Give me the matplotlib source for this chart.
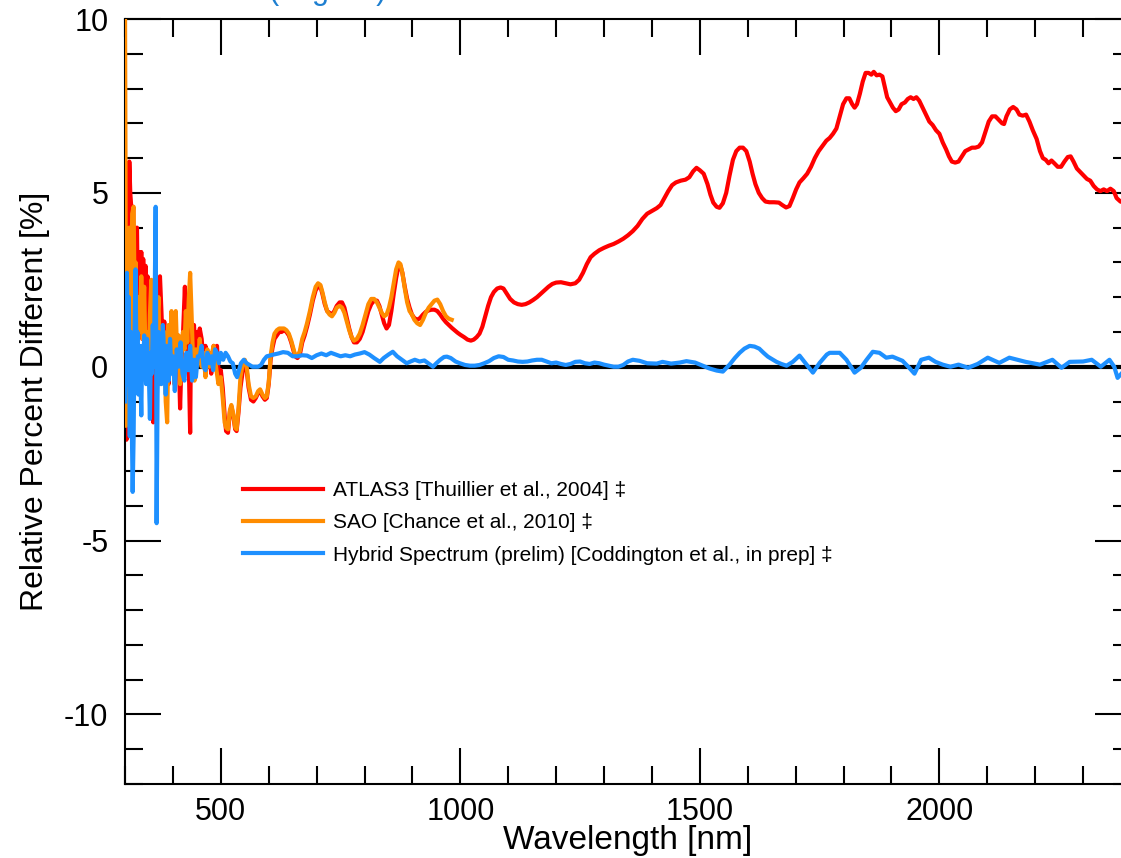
import matplotlib
matplotlib.use("Agg")
import matplotlib.pyplot as plt
from matplotlib.ticker import MultipleLocator

# ---- data: relative percent difference vs wavelength -----------------
atlas3_nm = [301, 303, 306, 309, 311, 313, 315, 317, 319, 321, 323, 325, 327, 330, 332, 334,
             336, 338, 340, 343, 345, 347, 349, 352, 355, 357, 359, 361, 364, 367, 370, 373,
             376, 379, 382, 385, 388, 391, 394, 397, 400, 403, 406, 409, 412, 415, 418, 421,
             425, 428, 431, 434, 436, 438, 441, 444, 447, 450, 453, 456, 460, 464, 468, 472,
             476, 480, 485, 489, 492, 496, 500, 504, 508, 511, 515, 519, 522, 526, 530, 533,
             537, 541, 546, 550, 554, 558, 563, 568, 573, 578, 582, 587, 592, 596, 600, 604,
             608, 612, 617, 622, 627, 632, 637, 642, 647, 651, 655, 660, 665, 670, 675, 680,
             686, 692, 698, 703, 708, 712, 717, 722, 727, 732, 737, 742, 748, 753, 758, 763,
             768, 773, 778, 784, 790, 796, 802, 808, 814, 820, 826, 831, 836, 841, 846, 851,
             856, 861, 866, 871, 875, 879, 884, 889, 894, 899, 904, 910, 916, 922, 928, 934,
             940, 946, 952, 958, 964, 970, 976, 982, 988, 994, 1000, 1008, 1015, 1022, 1028,
             1034, 1040, 1046, 1052, 1058, 1064, 1070, 1077, 1084, 1090, 1097, 1104, 1112,
             1120, 1128, 1136, 1144, 1152, 1160, 1168, 1176, 1184, 1192, 1200, 1210, 1220,
             1230, 1240, 1248, 1256, 1264, 1272, 1280, 1290, 1300, 1310, 1320, 1330, 1340,
             1350, 1360, 1370, 1380, 1390, 1400, 1410, 1418, 1426, 1434, 1442, 1450, 1460,
             1470, 1478, 1486, 1493, 1500, 1508, 1516, 1522, 1528, 1535, 1541, 1548, 1555,
             1562, 1569, 1576, 1583, 1590, 1597, 1604, 1610, 1616, 1623, 1630, 1637, 1645,
             1655, 1665, 1672, 1680, 1687, 1694, 1701, 1708, 1716, 1724, 1732, 1740, 1748,
             1756, 1764, 1771, 1778, 1785, 1792, 1799, 1806, 1812, 1818, 1823, 1828, 1834,
             1840, 1846, 1852, 1858, 1863, 1869, 1875, 1881, 1886, 1891, 1897, 1903, 1909,
             1915, 1921, 1928, 1934, 1940, 1946, 1952, 1958, 1965, 1972, 1979, 1986, 1993,
             2000, 2007, 2014, 2020, 2026, 2033, 2040, 2047, 2054, 2061, 2068, 2075, 2082,
             2089, 2096, 2103, 2110, 2117, 2124, 2131, 2135, 2140, 2147, 2154, 2161, 2167,
             2174, 2181, 2188, 2195, 2203, 2210, 2216, 2222, 2228, 2234, 2240, 2247, 2254,
             2261, 2268, 2274, 2280, 2287, 2294, 2301, 2308, 2315, 2322, 2329, 2336, 2343,
             2350, 2357, 2364, 2370, 2378, 2390]
atlas3_pct = [-1.2, -2.1, 1.0, 5.9, 5.0, 4.6, 2.0, 4.6, 1.0, 3.9, 3.2, 4.0, 1.5, 3.3, 2.2, 3.3,
              0.8, 3.1, 2.0, 2.9, 1.9, 2.6, 0.5, 2.2, 1.0, 1.8, -1.6, 0.8, 1.9, 0.6, 2.0, 2.6,
              1.6, 0.5, 1.3, 0.2, 0.6, -0.5, 0.4, 0.1, 0.6, -0.4, 0.5, 0.1, 0.4, -1.2, 0.2, 0.9,
              2.3, 0.5, 1.1, -0.5, -1.9, 1.3, 0.6, 1.2, 0.4, 1.0, 0.5, 1.1, 0.8, 0.2, 0.6, 0.1,
              0.4, -0.2, 0.6, 0.1, 0.6, -0.3, -0.1, -0.6, -1.4, -1.85, -1.9, -1.3, -1.15, -1.4, -1.8, -1.85,
              -1.3, -0.6, -0.1, 0.1, -0.1, -0.6, -0.95, -1.0, -0.9, -0.75, -0.7, -0.85, -0.95, -0.9, -0.5, 0.2,
              0.55, 0.8, 0.9, 1.0, 1.0, 1.05, 1.0, 0.9, 0.7, 0.5, 0.3, 0.25, 0.35, 0.7, 0.9, 1.15,
              1.5, 1.9, 2.2, 2.3, 2.3, 2.1, 1.8, 1.6, 1.55, 1.5, 1.6, 1.75, 1.85, 1.85, 1.7, 1.4,
              1.1, 0.85, 0.7, 0.7, 0.8, 1.0, 1.3, 1.6, 1.8, 1.9, 1.9, 1.75, 1.5, 1.25, 1.1, 1.2,
              1.6, 2.1, 2.55, 2.9, 2.9, 2.7, 2.3, 1.95, 1.7, 1.5, 1.4, 1.35, 1.4, 1.5, 1.58, 1.62,
              1.64, 1.64, 1.6, 1.5, 1.38, 1.28, 1.2, 1.12, 1.05, 0.98, 0.92, 0.85, 0.78, 0.75, 0.78,
              0.85, 0.95, 1.15, 1.45, 1.75, 2.0, 2.15, 2.25, 2.28, 2.25, 2.1, 1.95, 1.85,
              1.8, 1.78, 1.8, 1.85, 1.92, 2.0, 2.1, 2.2, 2.3, 2.38, 2.42, 2.43, 2.4,
              2.37, 2.4, 2.5, 2.7, 2.95, 3.15, 3.25, 3.35, 3.42, 3.48, 3.53, 3.6, 3.68,
              3.78, 3.9, 4.05, 4.25, 4.4, 4.48, 4.56, 4.65, 4.85, 5.05, 5.22, 5.3, 5.35,
              5.38, 5.45, 5.62, 5.72, 5.65, 5.55, 5.25, 4.95, 4.72, 4.6, 4.57, 4.7, 5.0,
              5.5, 5.95, 6.2, 6.3, 6.3, 6.2, 5.9, 5.55, 5.25, 5.0, 4.85, 4.75, 4.73,
              4.73, 4.72, 4.65, 4.58, 4.62, 4.85, 5.1, 5.3, 5.42, 5.55, 5.75, 6.0, 6.2,
              6.35, 6.5, 6.58, 6.7, 6.85, 7.2, 7.55, 7.72, 7.72, 7.55, 7.45, 7.55, 7.85,
              8.2, 8.45, 8.45, 8.4, 8.48, 8.38, 8.4, 8.35, 8.05, 7.75, 7.6, 7.45, 7.35,
              7.4, 7.55, 7.6, 7.7, 7.75, 7.7, 7.75, 7.65, 7.45, 7.25, 7.05, 6.95, 6.8,
              6.7, 6.45, 6.25, 6.05, 5.9, 5.87, 5.9, 6.05, 6.2, 6.25, 6.3, 6.3, 6.33,
              6.45, 6.75, 7.05, 7.2, 7.2, 7.1, 7.0, 6.98, 7.2, 7.4, 7.47, 7.4, 7.25,
              7.22, 7.25, 7.05, 6.8, 6.55, 6.2, 6.0, 5.95, 5.85, 5.93, 5.85, 5.75, 5.75,
              5.9, 6.03, 6.05, 5.9, 5.7, 5.6, 5.5, 5.4, 5.35, 5.2, 5.1, 5.05, 5.1,
              5.05, 5.12, 5.05, 4.85, 4.75, 4.7]

sao_nm = [300, 301, 302, 304, 306, 309, 312, 315, 318, 320, 322, 325, 328, 331, 334, 337,
          340, 343, 346, 349, 352, 355, 358, 361, 364, 367, 370, 373, 376, 379, 382, 385,
          388, 391, 394, 397, 400, 403, 406, 409, 412, 415, 418, 421, 424, 427, 430, 433,
          436, 439, 442, 445, 448, 452, 456, 460, 464, 468, 472, 476, 480, 485, 490, 495,
          500, 504, 508, 511, 515, 519, 522, 526, 530, 533, 537, 541, 546, 550, 554, 558,
          563, 568, 573, 578, 582, 587, 592, 596, 600, 604, 608, 612, 617, 622, 627, 632,
          637, 642, 647, 651, 655, 660, 665, 670, 675, 680, 686, 692, 698, 703, 708, 712,
          717, 722, 727, 732, 737, 742, 748, 753, 758, 763, 768, 773, 778, 784, 790, 796,
          802, 808, 814, 820, 826, 831, 836, 841, 846, 851, 856, 861, 866, 871, 875, 879,
          884, 889, 894, 899, 904, 910, 916, 922, 928, 934, 940, 946, 952, 958, 964, 970,
          976, 982]
sao_pct = [10.5, 6.0, -1.7, 2.5, 0.5, 4.0, 1.0, 4.4, 4.6, 2.0, 3.0, 0.2, 2.0, 1.0, 2.6, 0.8,
           2.3, 0.1, 1.0, -0.5, 1.5, 2.5, 0.5, 1.8, 0.2, 1.2, 2.0, -0.5, 0.8, 0.2, 1.0, -1.0,
           -1.6, 1.2, 0.2, 1.6, 0.4, -0.5, 1.6, 0.3, 0.9, -0.5, 0.4, 1.0, 0.5, 1.6, 0.7, 1.9,
           2.7, 1.5, 0.2, -0.4, 0.5, 0.1, 0.8, 0.0, 0.4, -0.3, 0.5, 0.0, 0.3, 0.6, 0.0, -0.5,
           -0.3, -0.9, -1.6, -1.75, -1.8, -1.25, -1.1, -1.35, -1.75, -1.8, -1.2, -0.3, 0.1, 0.2, 0.0, -0.5,
           -0.85, -0.9, -0.85, -0.7, -0.65, -0.8, -0.9, -0.85, -0.45, 0.3, 0.7, 0.95, 1.05, 1.1, 1.1, 1.1,
           1.05, 0.95, 0.75, 0.55, 0.35, 0.3, 0.45, 0.8, 1.0, 1.25, 1.6, 2.0, 2.3, 2.4, 2.35, 2.15,
           1.85, 1.6, 1.5, 1.45, 1.55, 1.7, 1.75, 1.7, 1.55, 1.3, 1.05, 0.85, 0.75, 0.8, 0.95, 1.2,
           1.5, 1.8, 1.95, 1.95, 1.85, 1.7, 1.55, 1.45, 1.5, 1.7, 2.0, 2.4, 2.8, 3.0, 2.95, 2.7,
           2.25, 1.85, 1.6, 1.5, 1.35, 1.25, 1.2, 1.35, 1.55, 1.7, 1.8, 1.9, 1.93, 1.8, 1.6, 1.45,
           1.38, 1.35]

hybrid_nm = [300, 302, 304, 306, 308, 310, 312, 314, 316, 318, 320, 322, 324, 326, 328, 330,
             332, 334, 336, 338, 340, 342, 344, 346, 348, 350, 352, 354, 356, 358, 360, 362,
             364, 365, 366, 368, 370, 373, 376, 379, 382, 385, 388, 391, 394, 397, 400, 404,
             408, 412, 416, 420, 424, 428, 432, 436, 440, 444, 448, 452, 456, 460, 464, 468,
             472, 476, 480, 484, 488, 492, 496, 500, 505, 510, 515, 520, 525, 530, 534, 538,
             542, 548, 554, 560, 566, 572, 578, 584, 590, 596, 602, 610, 620, 630, 640, 650,
             660, 670, 680, 690, 700, 710, 720, 730, 740, 750, 760, 770, 780, 790, 800, 810,
             820, 832, 840, 850, 859, 868, 878, 888, 896, 905, 915, 925, 935, 943, 950, 958,
             966, 972, 980, 990, 999, 1010, 1020, 1030, 1040, 1050, 1060, 1070, 1080, 1090,
             1100, 1110, 1120, 1130, 1140, 1150, 1160, 1170, 1180, 1190, 1200, 1210, 1220,
             1230, 1240, 1250, 1260, 1270, 1280, 1290, 1300, 1310, 1320, 1330, 1340, 1350,
             1360, 1374, 1390, 1410, 1422, 1440, 1458, 1472, 1490, 1506, 1520, 1535, 1548,
             1562, 1573, 1583, 1593, 1604, 1614, 1624, 1633, 1642, 1660, 1670, 1681, 1694,
             1708, 1720, 1736, 1750, 1765, 1771, 1792, 1806, 1823, 1836, 1848, 1861, 1875,
             1889, 1902, 1923, 1937, 1948, 1962, 1978, 1992, 2007, 2023, 2040, 2060, 2080,
             2101, 2125, 2146, 2180, 2210, 2236, 2255, 2272, 2300, 2318, 2337, 2355, 2365,
             2372, 2380]
hybrid_pct = [-1.0, 1.5, 2.7, -0.5, 2.0, -2.0, 1.0, -1.5, -3.6, -2.0, 1.0, 2.8, 0.0, 1.0, -0.8, 0.6,
              -0.2, -1.4, 0.6, -0.3, 0.9, 0.1, -0.5, 0.8, 0.0, -0.3, -1.5, 0.4, -0.2, 1.2, 0.0, 2.0,
              4.6, 1.0, -4.5, -0.8, 1.0, 0.2, -0.5, 1.2, 0.3, -0.8, 0.6, -0.4, 0.8, -0.2, 0.3, -0.7,
              0.5, 0.0, 0.7, -0.2, -0.4, 0.4, -0.1, 0.6, -0.4, 0.2, -0.3, 0.3, 0.3, 0.6, 0.0, -0.1,
              0.4, 0.1, 0.3, -0.1, 0.5, 0.4, 0.1, 0.4, 0.2, 0.4, 0.3, 0.15, 0.1, -0.2, -0.3, -0.1,
              0.1, 0.2, 0.1, 0.05, 0.0, 0.0, 0.0, 0.05, 0.2, 0.3, 0.32, 0.35, 0.38, 0.42, 0.4, 0.3,
              0.3, 0.33, 0.32, 0.25, 0.33, 0.38, 0.33, 0.4, 0.35, 0.3, 0.33, 0.3, 0.35, 0.38, 0.42, 0.35,
              0.25, 0.14, 0.25, 0.35, 0.43, 0.3, 0.2, 0.1, 0.15, 0.2, 0.15, 0.18, 0.08, 0.0, 0.1, 0.2,
              0.28, 0.29, 0.25, 0.15, 0.1, 0.05, 0.03, 0.03, 0.05, 0.1, 0.16, 0.25, 0.3, 0.28,
              0.2, 0.18, 0.15, 0.14, 0.15, 0.18, 0.2, 0.2, 0.15, 0.1, 0.12, 0.08, 0.05,
              0.08, 0.14, 0.15, 0.1, 0.08, 0.12, 0.1, 0.06, 0.03, 0.0, 0.0, 0.05, 0.15,
              0.2, 0.17, 0.1, 0.09, 0.14, 0.09, 0.12, 0.16, 0.12, 0.03, -0.05, -0.11, -0.14,
              0.06, 0.25, 0.4, 0.52, 0.6, 0.58, 0.52, 0.4, 0.29, 0.14, 0.08, 0.03, 0.14,
              0.32, 0.11, -0.17, 0.11, 0.35, 0.4, 0.4, 0.2, -0.17, -0.03, 0.2, 0.43, 0.4,
              0.26, 0.29, 0.17, -0.03, -0.2, 0.2, 0.26, 0.14, 0.06, 0.0, 0.06, -0.03, 0.08,
              0.26, 0.11, 0.26, 0.14, 0.06, 0.2, -0.03, 0.14, 0.15, 0.2, 0.0, 0.2, 0.0,
              -0.32, -0.2]

series_labels = ["ATLAS3 [Thuillier et al., 2004] \u2021",
                 "SAO [Chance et al., 2010] \u2021",
                 "Hybrid Spectrum (prelim) [Coddington et al., in prep] \u2021"]

# ---- figure ------------------------------------------------------------
plt.rcParams["font.family"] = ["Liberation Sans", "DejaVu Sans"]
plt.rcParams["axes.unicode_minus"] = False

W, H = 1121, 858
fig = plt.figure(figsize=(W / 100, H / 100), dpi=100)
ax = fig.add_axes([125 / W, 1 - 784 / H, 1006 / W, 765 / H])

ax.axhline(0, color="black", lw=3.0, zorder=1)
ax.plot(atlas3_nm, atlas3_pct, color="#FF0000", lw=3.0, label=series_labels[0], zorder=2)
ax.plot(sao_nm, sao_pct, color="#FF8C00", lw=3.0, label=series_labels[1], zorder=3)
ax.plot(hybrid_nm, hybrid_pct, color="#1E90FF", lw=3.0, label=series_labels[2], zorder=4)

ax.set_xlim(300, 2400)
ax.set_ylim(-12, 10)
ax.xaxis.set_major_locator(MultipleLocator(500))
ax.xaxis.set_minor_locator(MultipleLocator(100))
ax.yaxis.set_major_locator(MultipleLocator(5))
ax.yaxis.set_minor_locator(MultipleLocator(1))
ax.tick_params(which="both", direction="in", top=True, right=True, width=1.5,
               labelsize=22, colors="black")
ax.tick_params(which="major", length=26)
ax.tick_params(which="minor", length=13)
ax.tick_params(axis="y", pad=12)
ax.tick_params(axis="x", pad=9)
for s in ax.spines.values():
    s.set_linewidth(1.5)

ax.set_xlabel("Wavelength [nm]", fontsize=24, labelpad=-1)
ax.set_ylabel("Relative Percent Different [%]", fontsize=23, labelpad=10)

ax.legend(loc="upper left", bbox_to_anchor=((243 - 125) / 1006, 0.396),
          frameon=False, fontsize=15, handlelength=3.85, handletextpad=0.45,
          labelspacing=0.64, borderpad=0, borderaxespad=0)

fig.text(268 / W, 1 + 1 / H, "(original)", color="#1E7FD0", fontsize=22,
         ha="left", va="baseline")

fig.savefig("out.png", dpi=100)
